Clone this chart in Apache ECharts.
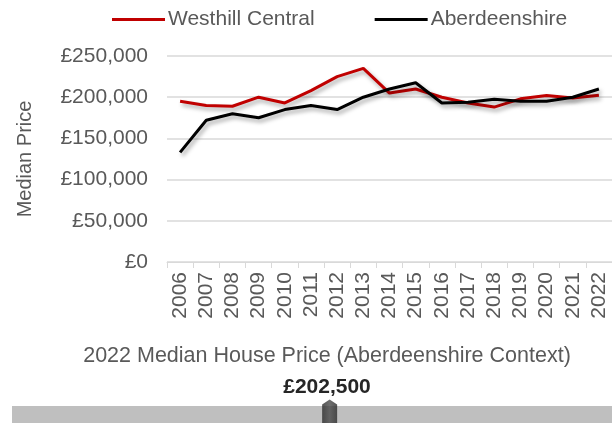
<!DOCTYPE html>
<html>
<head>
<meta charset="utf-8">
<script src="https://cdn.jsdelivr.net/npm/echarts@6/dist/echarts.min.js"></script>
<style>
  html, body { margin: 0; padding: 0; background: #fff; }
  #chart { width: 612px; height: 423px; }
</style>
</head>
<body>
<div id="chart"></div>
<script>
// years along the x axis
const years = ["2006", "2007", "2008", "2009", "2010", "2011", "2012", "2013", "2014",
  "2015", "2016", "2017", "2018", "2019", "2020", "2021", "2022"];
// median prices
const westhill = [195000, 190000, 189000, 200000, 193000, 208000, 225000, 235000, 205000,
  210000, 200000, 193000, 188000, 198000, 202000, 199000, 202500];
const aberdeenshire = [133000, 172000, 180000, 175000, 185000, 190000, 185000, 200000, 210000,
  217500, 193000, 194000, 197500, 195000, 195000, 200000, 210000];
// bottom context slider
const sliderLabel = "2022 Median House Price (Aberdeenshire Context)";
const sliderRange = [0, 382500];
const sliderValue = 202500;

const fmt = (v) => "£" + v.toLocaleString("en-GB");
const font = "Liberation Sans, Arial, sans-serif";
const grey = "#595959";

const chart = echarts.init(document.getElementById("chart"));

const shadow = {
  shadowColor: "rgba(0,0,0,0.35)",
  shadowBlur: 4,
  shadowOffsetX: 2,
  shadowOffsetY: 3,
};

const option = {
  animation: false,
  textStyle: { fontFamily: font },
  title: {
    text: sliderLabel,
    subtext: fmt(sliderValue),
    left: 322,
    textAlign: "center",
    top: 340,
    itemGap: 10,
    textStyle: { fontSize: 21.5, fontWeight: "normal", color: grey, fontFamily: font },
    subtextStyle: { fontSize: 21, fontWeight: "bold", color: "#262626", fontFamily: font },
  },
  legend: {
    top: 4,
    left: 107,
    icon: "rect",
    itemWidth: 53,
    itemHeight: 3,
    itemGap: 60,
    textStyle: { fontSize: 21, color: grey, padding: [0, 0, 0, -2] },
    data: ["Westhill Central", "Aberdeenshire"],
  },
  grid: [
    { left: 167, right: -2, top: 56, bottom: 161 },
    { left: 12, right: 0, top: 406, height: 17 },
  ],
  xAxis: [
    {
      type: "category",
      data: years,
      boundaryGap: true,
      axisLine: { lineStyle: { color: "#d9d9d9", width: 1 } },
      axisTick: { show: true, length: 6, interval: 0, lineStyle: { color: "#d9d9d9" } },
      axisLabel: { rotate: 90, interval: 0, fontSize: 21, color: grey, margin: 10 },
    },
    {
      gridIndex: 1,
      type: "value",
      min: sliderRange[0],
      max: sliderRange[1],
      show: false,
    },
  ],
  yAxis: [
    {
      type: "value",
      min: 0,
      max: 250000,
      interval: 50000,
      name: "Median Price",
      nameLocation: "middle",
      nameGap: 132,
      nameTextStyle: { fontSize: 20, color: grey },
      axisLine: { show: false },
      axisTick: { show: false },
      axisLabel: { fontSize: 21, color: grey, margin: 19, formatter: fmt },
      splitLine: { lineStyle: { color: "#d9d9d9", width: 1.5 } },
    },
    {
      gridIndex: 1,
      type: "category",
      data: ["range"],
      show: false,
    },
  ],
  series: [
    {
      name: "Westhill Central",
      type: "line",
      data: westhill,
      symbol: "none",
      color: "#c00000",
      lineStyle: Object.assign({ width: 3, color: "#c00000" }, shadow),
      z: 3,
    },
    {
      name: "Aberdeenshire",
      type: "line",
      data: aberdeenshire,
      symbol: "none",
      color: "#000000",
      lineStyle: Object.assign({ width: 3, color: "#000000" }, shadow),
      z: 4,
    },
    {
      type: "bar",
      xAxisIndex: 1,
      yAxisIndex: 1,
      data: [sliderRange[1]],
      barWidth: 17,
      itemStyle: { color: "#bfbfbf" },
      silent: true,
    },
    {
      type: "scatter",
      xAxisIndex: 1,
      yAxisIndex: 1,
      data: [[sliderValue, "range"]],
      symbol: "path://M0,5 L5,0 L10,5 L10,30 L0,30 Z",
      symbolSize: [15, 30],
      symbolOffset: [0, 0],
      itemStyle: {
        color: new echarts.graphic.LinearGradient(0, 0, 1, 0, [
          { offset: 0, color: "#2b2b2b" },
          { offset: 0.5, color: "#4a4a4a" },
          { offset: 1, color: "#2b2b2b" },
        ]),
      },
      silent: true,
      z: 5,
    },
  ],
};

chart.setOption(option);
</script>
</body>
</html>
